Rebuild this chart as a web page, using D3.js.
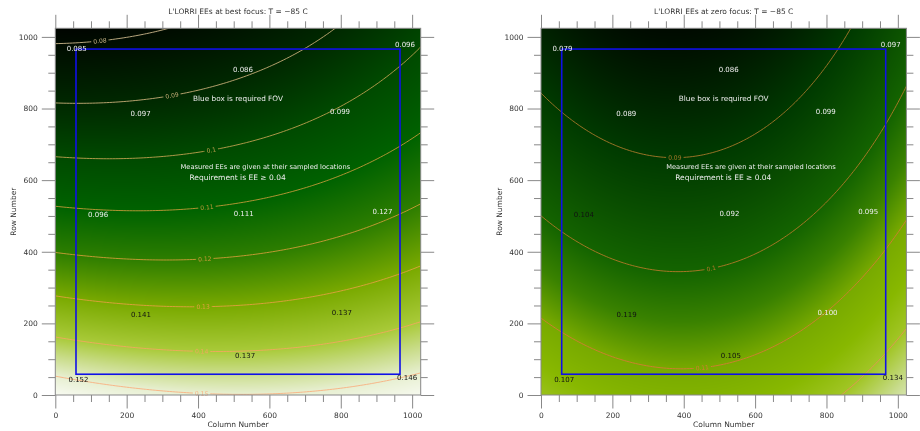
<!DOCTYPE html>
<html>
<head>
<meta charset="utf-8">
<script src="https://cdn.jsdelivr.net/npm/d3@7"></script>
<style>
  body { margin: 0; background: #fff; }
  svg { will-change: transform; }
  svg text { font-family: "DejaVu Sans", sans-serif; }
</style>
</head>
<body>
<svg id="chart" width="920" height="431"></svg>
<script>
// sampled detector locations (column, row) - same for both focus settings
const sampleCols = [60, 980, 526, 239, 798, 120, 528, 917, 240, 803, 532, 65, 986];
const sampleRows = [968, 978, 910, 786, 792, 503, 507, 511, 224, 230, 111, 42, 48];
// measured encircled energies
const bestFocusEE = [0.085, 0.096, 0.086, 0.097, 0.099, 0.096, 0.111, 0.127, 0.141, 0.137, 0.137, 0.152, 0.146];
const zeroFocusEE = [0.079, 0.097, 0.086, 0.089, 0.099, 0.104, 0.092, 0.095, 0.119, 0.100, 0.105, 0.107, 0.134];
// contour levels + column where the inline label sits
const bestLevels = [0.08, 0.09, 0.10, 0.11, 0.12, 0.13, 0.14, 0.15];
const bestLabelCols = [125, 327, 437, 425, 419, 414, 410, 410];
const zeroLevels = [0.09, 0.10, 0.11, 0.12];
const zeroLabelCols = [375, 477, 452, null];
const fovBox = [58, 966];
const majorTicks = [0, 200, 400, 600, 800, 1000];
const minorTicks = d3.range(0, 1024, 50).filter(v => v % 200 !== 0);

const svg = d3.select("#chart");
const fmt = d3.format(".3f");

// least squares quadratic surface through the measured points
function fitSurface(vals) {
  const feat = (c, r) => {
    const u = (c - 512) / 512, v = (r - 512) / 512;
    return [1, u, v, u * u, u * v, v * v];
  };
  const n = 6;
  const A = d3.range(n).map(() => new Array(n).fill(0));
  const b = new Array(n).fill(0);
  vals.forEach((z, i) => {
    const f = feat(sampleCols[i], sampleRows[i]);
    for (let j = 0; j < n; j++) {
      b[j] += f[j] * z;
      for (let k = 0; k < n; k++) A[j][k] += f[j] * f[k];
    }
  });
  for (let p = 0; p < n; p++) {
    let m = p;
    for (let q = p + 1; q < n; q++) if (Math.abs(A[q][p]) > Math.abs(A[m][p])) m = q;
    [A[p], A[m]] = [A[m], A[p]]; [b[p], b[m]] = [b[m], b[p]];
    for (let q = p + 1; q < n; q++) {
      const t = A[q][p] / A[p][p];
      for (let k = p; k < n; k++) A[q][k] -= t * A[p][k];
      b[q] -= t * b[p];
    }
  }
  const coef = new Array(n).fill(0);
  for (let p = n - 1; p >= 0; p--) {
    let s = b[p];
    for (let k = p + 1; k < n; k++) s -= A[p][k] * coef[k];
    coef[p] = s / A[p][p];
  }
  return (c, r) => d3.sum(feat(c, r), (f, i) => f * coef[i]);
}

function drawPanel(cfg) {
  const x = d3.scaleLinear().domain([0, 1024]).range([cfg.x0, cfg.x1]);
  const y = d3.scaleLinear().domain([0, 1024]).range([395, 28.3]);
  const f = fitSurface(cfg.values);
  const bg = d3.scaleLinear().domain(cfg.bgStops).range(cfg.bgColors).clamp(true);
  const g = svg.append("g");

  // background image
  const W = Math.round(cfg.x1 - cfg.x0), H = Math.round(395 - 28.3);
  const canvas = document.createElement("canvas");
  canvas.width = W; canvas.height = H;
  const ctx = canvas.getContext("2d");
  const img = ctx.createImageData(W, H);
  for (let j = 0; j < H; j++) {
    for (let i = 0; i < W; i++) {
      const c = d3.rgb(bg(f(x.invert(cfg.x0 + i + 0.5), y.invert(28.3 + j + 0.5))));
      const k = (j * W + i) * 4;
      img.data[k] = c.r; img.data[k + 1] = c.g; img.data[k + 2] = c.b; img.data[k + 3] = 255;
    }
  }
  ctx.putImageData(img, 0, 0);
  g.append("image").attr("x", cfg.x0).attr("y", 28.3).attr("width", cfg.x1 - cfg.x0).attr("height", 395 - 28.3)
    .attr("preserveAspectRatio", "none").attr("href", canvas.toDataURL());

  // contours on a grid a bit larger than the plot, clipped
  const step = 8, c0 = -24, r1 = 1048;
  const nx = Math.ceil((1048 - c0) / step) + 1, ny = Math.ceil((r1 + 24) / step) + 1;
  const grid = new Array(nx * ny);
  for (let j = 0; j < ny; j++) for (let i = 0; i < nx; i++) grid[j * nx + i] = f(c0 + i * step, r1 - j * step);
  const contours = d3.contours().size([nx, ny]).thresholds(cfg.levels)(grid);
  const proj = d3.geoTransform({
    point(px, py) { this.stream.point(x(c0 + (px - 0.5) * step), y(r1 - (py - 0.5) * step)); }
  });
  const path = d3.geoPath(proj);
  const cc = d3.scaleOrdinal().domain(cfg.levels).range(cfg.lineColors);

  const clipId = "clip" + cfg.id, maskId = "mask" + cfg.id;
  const defs = svg.append("defs");
  defs.append("clipPath").attr("id", clipId).append("rect")
    .attr("x", cfg.x0).attr("y", 28.3).attr("width", cfg.x1 - cfg.x0).attr("height", 395 - 28.3);
  const mask = defs.append("mask").attr("id", maskId).attr("maskUnits", "userSpaceOnUse")
    .attr("x", 0).attr("y", 0).attr("width", 920).attr("height", 431);
  mask.append("rect").attr("width", 920).attr("height", 431).attr("fill", "#fff");

  // label placement
  const labels = [];
  cfg.levels.forEach((lv, li) => {
    const col = cfg.labelCols[li];
    if (col == null) return;
    const rowAt = c => {
      let prev = f(c, 0);
      for (let r = 2; r <= 1024; r += 2) {
        const v = f(c, r);
        if ((prev - lv) * (v - lv) <= 0) return r - 2 + 2 * (prev - lv) / (prev - v);
        prev = v;
      }
      return null;
    };
    const r = rowAt(col);
    if (r == null) return;
    const ra = rowAt(col - 8), rb = rowAt(col + 8);
    let ang = 0;
    if (ra != null && rb != null) ang = Math.atan2(y(rb) - y(ra), x(col + 8) - x(col - 8)) * 180 / Math.PI;
    labels.push({lv, px: x(col), py: y(r), ang});
  });
  labels.forEach(d => {
    const w = String(d.lv).length * 3.6 + 3;
    mask.append("rect").attr("x", -w / 2).attr("y", -3.5).attr("width", w).attr("height", 7)
      .attr("fill", "#000").attr("transform", `translate(${d.px},${d.py}) rotate(${d.ang})`);
  });

  g.append("g").attr("clip-path", `url(#${clipId})`).append("g").attr("mask", `url(#${maskId})`)
    .selectAll("path").data(contours).join("path")
    .attr("d", path).attr("fill", "none").attr("stroke", d => cc(d.value)).attr("stroke-width", 0.9);
  g.selectAll(".clab").data(labels).join("text").attr("class", "clab")
    .attr("transform", d => `translate(${d.px},${d.py}) rotate(${d.ang})`)
    .attr("text-anchor", "middle").attr("dy", "0.35em").attr("font-size", 6)
    .attr("fill", d => cc(d.lv)).text(d => d.lv);

  // required FOV box
  g.append("rect").attr("x", x(fovBox[0])).attr("y", y(fovBox[1]))
    .attr("width", x(fovBox[1]) - x(fovBox[0])).attr("height", y(fovBox[0]) - y(fovBox[1]))
    .attr("fill", "none").attr("stroke", "#1010e8").attr("stroke-width", 1.6);

  // measured values
  g.selectAll(".ee").data(cfg.values).join("text").attr("class", "ee")
    .attr("x", (d, i) => x(sampleCols[i])).attr("y", (d, i) => y(sampleRows[i]))
    .attr("text-anchor", "middle").attr("dy", "0.35em").attr("font-size", 7)
    .style("fill", d => d > cfg.darkAbove ? "#111111" : "#eeeeee").text(d => fmt(d));

  // notes
  g.append("text").attr("x", x(512)).attr("y", y(827)).attr("dy", "0.35em").attr("text-anchor", "middle")
    .attr("font-size", 7.3).style("fill", "#eeeeee").text("Blue box is required FOV");
  g.append("text").attr("x", x(351)).attr("y", y(637)).attr("dy", "0.35em")
    .attr("font-size", 6.7).style("fill", "#eeeeee").text("Measured EEs are given at their sampled locations");
  g.append("text").attr("x", x(376)).attr("y", y(607)).attr("dy", "0.35em")
    .attr("font-size", 7.5).style("fill", "#eeeeee").text("Requirement is EE \u2265 0.04");

  // axes
  const tickCol = "#888";
  const axes = [
    [d3.axisBottom(x), `translate(0,395)`, true],
    [d3.axisTop(x), `translate(0,28.3)`, false],
    [d3.axisLeft(y), `translate(${cfg.x0},0)`, true],
    [d3.axisRight(y), `translate(${cfg.x1},0)`, false]
  ];
  axes.forEach(([ax, tr, lab]) => {
    const minor = g.append("g").attr("transform", tr)
      .call(ax.tickValues(minorTicks).tickSize(7).tickFormat(""));
    minor.select(".domain").remove();
    minor.selectAll("line").attr("stroke", tickCol);
    const major = g.append("g").attr("transform", tr)
      .call(ax.tickValues(majorTicks).tickSize(13.5).tickPadding(4).tickFormat(lab ? d3.format("d") : ""));
    major.select(".domain").remove();
    major.selectAll("line").attr("stroke", tickCol);
    major.selectAll("text").attr("font-size", 7.5).attr("fill", "#333").attr("font-family", "DejaVu Sans");
  });
  g.append("rect").attr("x", cfg.x0).attr("y", 28.3).attr("width", cfg.x1 - cfg.x0).attr("height", 395 - 28.3)
    .attr("fill", "none").attr("stroke", tickCol).attr("stroke-width", 1);

  const cx = (cfg.x0 + cfg.x1) / 2;
  g.append("text").attr("x", cx).attr("y", 14).attr("text-anchor", "middle")
    .attr("font-size", 7.5).attr("fill", "#333").text(cfg.title);
  g.append("text").attr("x", cx).attr("y", 427).attr("text-anchor", "middle")
    .attr("font-size", 7.5).attr("fill", "#333").text("Column Number");
  g.append("text").attr("transform", `translate(${cfg.x0 - 42},211.7) rotate(-90)`).attr("text-anchor", "middle")
    .attr("dy", "0.35em").attr("font-size", 7.5).attr("fill", "#333").text("Row Number");
}

drawPanel({
  id: "a", x0: 55.3, x1: 420.7, values: bestFocusEE,
  title: "L'LORRI EEs at best focus: T = \u221285 C",
  levels: bestLevels, labelCols: bestLabelCols,
  lineColors: ["#cdb98c", "#c8af78", "#c0a050", "#c29a38", "#cf9c38", "#e0a040", "#f0a860", "#f8b080"],
  bgStops: [0.076, 0.09, 0.10, 0.11, 0.12, 0.13, 0.14, 0.145, 0.15, 0.157],
  bgColors: ["#000000", "#002800", "#004a00", "#006200", "#2e7e00", "#7aaa00", "#aacb3a", "#cadd8a", "#e8f0d2", "#ffffff"],
  darkAbove: 0.13
});
drawPanel({
  id: "b", x0: 541, x1: 906.4, values: zeroFocusEE,
  title: "L'LORRI EEs at zero focus: T = \u221285 C",
  levels: zeroLevels, labelCols: zeroLabelCols,
  lineColors: ["#a8782a", "#b47828", "#d47c34", "#e8905c"],
  bgStops: [0.079, 0.09, 0.10, 0.105, 0.11, 0.115, 0.12, 0.125, 0.13, 0.134],
  bgColors: ["#000000", "#003a00", "#146400", "#3a8200", "#78aa00", "#88b800", "#a2c626", "#c8dc8c", "#eef4e0", "#ffffff"],
  darkAbove: 0.1
});
</script>
</body>
</html>
